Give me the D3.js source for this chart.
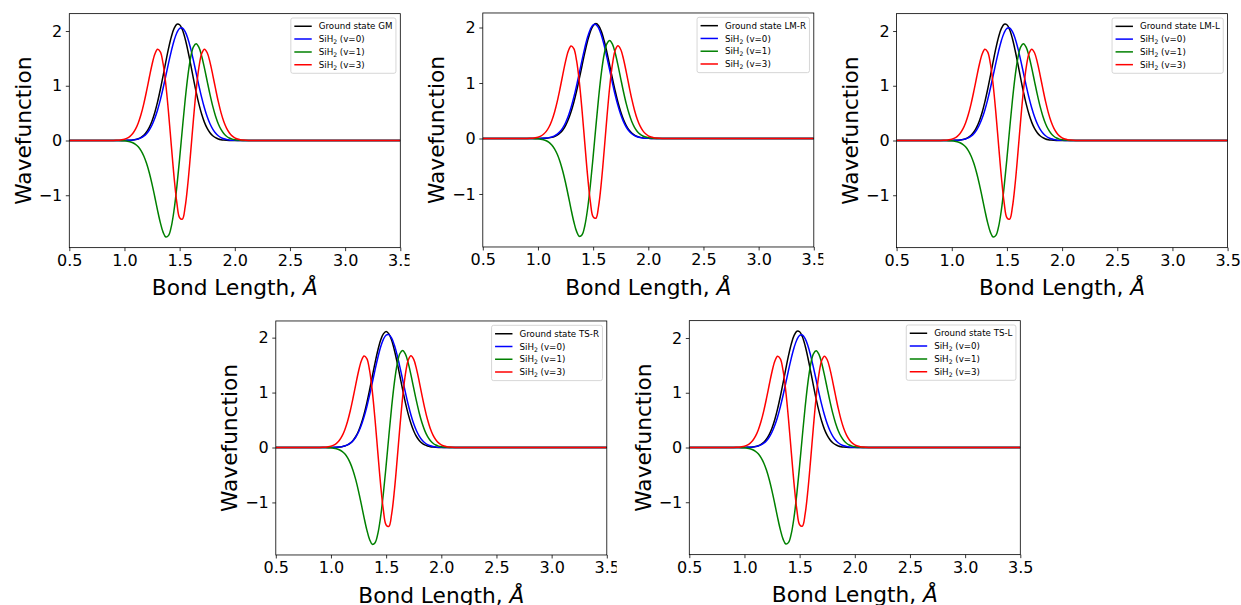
<!DOCTYPE html>
<html><head><meta charset="utf-8">
<script src="https://cdn.jsdelivr.net/npm/d3@7"></script>
<style>
body{margin:0;background:#fff;}
svg{display:block;}
text{font-family:"DejaVu Sans",sans-serif;fill:#000;}
</style>
</head><body>
<svg id="chart" width="1241" height="605"></svg>
<script>
// ---------- data ----------
const bondLength = [0.5, 0.85, 0.875, 0.9, 0.925, 0.95, 0.975, 1.0, 1.025, 1.05, 1.075, 1.1, 1.125, 1.15, 1.175, 1.2, 1.225, 1.25, 1.275, 1.3, 1.325, 1.35, 1.375, 1.4, 1.425, 1.45, 1.475, 1.5, 1.525, 1.55, 1.575, 1.6, 1.625, 1.65, 1.675, 1.7, 1.725, 1.75, 1.775, 1.8, 1.825, 1.85, 1.875, 1.9, 1.925, 1.95, 1.975, 2.0, 2.025, 2.05, 2.075, 2.1, 2.125, 2.15, 2.175, 2.2, 3.5];

const groundGM  = [0, 0, 0, 0, 0.0001, 0.0002, 0.0005, 0.0011, 0.0023, 0.0047, 0.0093, 0.0177, 0.0324, 0.0567, 0.0955, 0.1544, 0.2398, 0.3577, 0.5123, 0.705, 0.9315, 1.1822, 1.4407, 1.6865, 1.8961, 2.0474, 2.1231, 2.1146, 2.0227, 1.8582, 1.6395, 1.3894, 1.1308, 0.8839, 0.6635, 0.4784, 0.3312, 0.2203, 0.1407, 0.0863, 0.0508, 0.0288, 0.0156, 0.0082, 0.0041, 0.002, 0.0009, 0.0004, 0.0002, 0.0001, 0, 0, 0, 0, 0, 0, 0];
const groundLMR = [0, 0, 0, 0, 0, 0.0001, 0.0003, 0.0007, 0.0015, 0.0031, 0.006, 0.0113, 0.0205, 0.0359, 0.0605, 0.0984, 0.1544, 0.2337, 0.3413, 0.4807, 0.6531, 0.8557, 1.0818, 1.3192, 1.5515, 1.7601, 1.9259, 2.033, 2.07, 2.033, 1.9259, 1.7601, 1.5515, 1.3192, 1.0818, 0.8557, 0.6531, 0.4807, 0.3413, 0.2337, 0.1544, 0.0984, 0.0605, 0.0359, 0.0205, 0.0113, 0.006, 0.0031, 0.0015, 0.0007, 0.0003, 0.0001, 0, 0, 0, 0, 0];
const groundLML = [0, 0, 0, 0, 0.0001, 0.0002, 0.0005, 0.0011, 0.0023, 0.0047, 0.0093, 0.0177, 0.0324, 0.0567, 0.0955, 0.1544, 0.2398, 0.3577, 0.5123, 0.705, 0.9315, 1.1822, 1.4407, 1.6865, 1.8961, 2.0474, 2.1231, 2.1146, 2.0227, 1.8582, 1.6395, 1.3894, 1.1308, 0.8839, 0.6635, 0.4784, 0.3312, 0.2203, 0.1407, 0.0863, 0.0508, 0.0288, 0.0156, 0.0082, 0.0041, 0.002, 0.0009, 0.0004, 0.0002, 0.0001, 0, 0, 0, 0, 0, 0, 0];
const groundTSR = [0, 0, 0, 0, 0.0001, 0.0001, 0.0004, 0.0009, 0.0019, 0.0039, 0.0076, 0.0145, 0.0265, 0.0466, 0.0787, 0.128, 0.2003, 0.3014, 0.4362, 0.6073, 0.8132, 1.0473, 1.2971, 1.5455, 1.771, 1.952, 2.0693, 2.11, 2.0693, 1.952, 1.771, 1.5455, 1.2971, 1.0473, 0.8132, 0.6073, 0.4362, 0.3014, 0.2003, 0.128, 0.0787, 0.0466, 0.0265, 0.0145, 0.0076, 0.0039, 0.0019, 0.0009, 0.0004, 0.0001, 0, 0, 0, 0, 0, 0, 0];
const groundTSL = [0, 0, 0, 0, 0.0001, 0.0002, 0.0005, 0.0011, 0.0023, 0.0047, 0.0093, 0.0177, 0.0324, 0.0567, 0.0955, 0.1544, 0.2398, 0.3577, 0.5123, 0.705, 0.9315, 1.1822, 1.4407, 1.6865, 1.8961, 2.0474, 2.1231, 2.1146, 2.0227, 1.8582, 1.6395, 1.3894, 1.1308, 0.8839, 0.6635, 0.4784, 0.3312, 0.2203, 0.1407, 0.0863, 0.0508, 0.0288, 0.0156, 0.0082, 0.0041, 0.002, 0.0009, 0.0004, 0.0002, 0.0001, 0, 0, 0, 0, 0, 0, 0];

const sih2v0 = [0, 0, 0, 0, 0.0001, 0.0002, 0.0005, 0.0011, 0.0023, 0.0046, 0.0087, 0.0158, 0.028, 0.0477, 0.0785, 0.1247, 0.1913, 0.2831, 0.4044, 0.5578, 0.7424, 0.9538, 1.1839, 1.4175, 1.6383, 1.8283, 1.969, 2.047, 2.0542, 1.99, 1.8606, 1.6795, 1.4632, 1.2309, 0.9991, 0.783, 0.5923, 0.4324, 0.3049, 0.2073, 0.1363, 0.0863, 0.0528, 0.0312, 0.0178, 0.0098, 0.0052, 0.0027, 0.0013, 0.0006, 0.0003, 0.0001, 0, 0, 0, 0, 0];
const sih2v1 = [0, 0, 0, -0.0003, -0.0007, -0.0015, -0.0031, -0.0063, -0.0121, -0.0226, -0.0405, -0.0699, -0.116, -0.185, -0.2837, -0.4175, -0.5896, -0.7973, -1.032, -1.2755, -1.5, -1.674, -1.763, -1.733, -1.5677, -1.2634, -0.8375, -0.3265, 0.2185, 0.7406, 1.1869, 1.5179, 1.7113, 1.7666, 1.6996, 1.5402, 1.3223, 1.0804, 0.8428, 0.6283, 0.4491, 0.3074, 0.2022, 0.1278, 0.0776, 0.0453, 0.0255, 0.0138, 0.0072, 0.0036, 0.0017, 0.0008, 0.0003, 0.0001, 0, 0, 0];
const sih2v3 = [0, 0.0001, 0.0006, 0.0014, 0.003, 0.0062, 0.0122, 0.0234, 0.043, 0.0757, 0.1277, 0.2069, 0.3204, 0.474, 0.6699, 0.9009, 1.1507, 1.389, 1.576, 1.667, 1.618, 1.4028, 1.018, 0.4965, -0.0975, -0.6753, -1.1402, -1.4106, -1.4361, -1.2122, -0.7801, -0.2173, 0.3809, 0.9231, 1.3383, 1.5889, 1.6692, 1.6033, 1.4321, 1.1998, 0.9504, 0.7134, 0.5099, 0.3478, 0.2266, 0.1413, 0.0844, 0.0483, 0.0265, 0.014, 0.0071, 0.0035, 0.0016, 0.0007, 0.0003, 0.0001, 0];

const panelNames = ["GM", "LM-R", "LM-L", "TS-R", "TS-L"];
const groundStates = [groundGM, groundLMR, groundLML, groundTSR, groundTSL];
const seriesColors = ["#000000", "#0000ff", "#008000", "#ff0000"];
const vibLabels = ["(v=0)", "(v=1)", "(v=3)"];

const xTicks = [0.5, 1.0, 1.5, 2.0, 2.5, 3.0, 3.5];
const xTickLabels = ["0.5", "1.0", "1.5", "2.0", "2.5", "3.0", "3.5"];
const yTicks = [-1, 0, 1, 2];
const yTickLabels = ["\u22121", "0", "1", "2"];

// ---------- layout ----------
const layout = [
  {left: 69.3,  top: 13.3, clipR: 409.5},
  {left: 482.8, top: 13.3, clipR: 823.3},
  {left: 896.6, top: 13.3, clipR: 1241},
  {left: 275.8, top: 321,  clipR: 616.7},
  {left: 689.3, top: 321,  clipR: 1033.3}
];
const W = 331, H = 234;

const svg = d3.select("#chart");
const defs = svg.append("defs");

panelNames.forEach((name, i) => {
  const L = layout[i];
  const series = [groundStates[i], sih2v0, sih2v1, sih2v3];
  const all = series.flat();
  const ymin = d3.min(all), ymax = d3.max(all);
  const pad = (ymax - ymin) * 0.05;
  const x = d3.scaleLinear().domain([0.5, 3.5]).range([0, W]);
  const y = d3.scaleLinear().domain([ymin - pad, ymax + pad]).range([H, 0]);

  // nudge panel so the zero line sits on a pixel centre (crisp red zero line)
  const z = L.top + y(0);
  const top = L.top + (Math.floor(z) + 0.5 - z);

  defs.append("clipPath").attr("id", "pc" + i).append("rect")
    .attr("x", L.left - 75).attr("y", top - 15)
    .attr("width", L.clipR - (L.left - 75)).attr("height", H + 120);
  defs.append("clipPath").attr("id", "ac" + i).append("rect")
    .attr("x", 0).attr("y", 0).attr("width", W).attr("height", H);

  const outer = svg.append("g").attr("clip-path", `url(#pc${i})`);
  const ax = outer.append("g").attr("transform", `translate(${L.left},${top})`);

  const line = d3.line()
    .x(d => x(d[0])).y(d => y(d[1]))
    .curve(d3.curveCatmullRom.alpha(0.5));

  const plot = ax.append("g").attr("clip-path", `url(#ac${i})`);
  series.forEach((vals, k) => {
    plot.append("path")
      .datum(bondLength.map((b, j) => [b, vals[j]]))
      .attr("d", line)
      .attr("fill", "none")
      .attr("stroke", seriesColors[k])
      .attr("stroke-width", 1.5)
      .attr("stroke-linejoin", "round");
  });

  // axes
  const xAxis = d3.axisBottom(x).tickValues(xTicks)
    .tickFormat((d, j) => xTickLabels[j]).tickSize(3.5).tickPadding(3.5).tickSizeOuter(0);
  const yAxis = d3.axisLeft(y).tickValues(yTicks)
    .tickFormat((d, j) => yTickLabels[j]).tickSize(3.5).tickPadding(3.5).tickSizeOuter(0);
  const gx = ax.append("g").attr("transform", `translate(0,${H})`).call(xAxis);
  const gy = ax.append("g").call(yAxis);
  [gx, gy].forEach(g => {
    g.select(".domain").remove();
    g.selectAll("line").attr("stroke", "#000").attr("stroke-width", 0.8);
    g.selectAll("text").style("font-family", '"DejaVu Sans", sans-serif')
      .style("font-size", "16px").attr("fill", "#000");
  });

  ax.append("rect").attr("x", 0).attr("y", 0).attr("width", W).attr("height", H)
    .attr("fill", "none").attr("stroke", "#000").attr("stroke-width", 0.8);

  // axis labels
  ax.append("text")
    .attr("transform", `translate(${-38.8},${H / 2}) rotate(-90)`)
    .attr("text-anchor", "middle")
    .style("font-size", "21.7px")
    .text("Wavefunction");
  const xl = ax.append("text")
    .attr("x", W / 2).attr("y", H + 47.7)
    .attr("text-anchor", "middle")
    .style("font-size", "21.7px");
  xl.append("tspan").text("Bond Length, ");
  xl.append("tspan").style("font-style", "italic").text("\u00C5");

  // legend
  const fs = 8.7;
  const lg = ax.append("g");
  const texts = [];
  for (let k = 0; k < 4; k++) {
    const t = lg.append("text").style("font-size", fs + "px");
    if (k === 0) {
      t.text("Ground state " + name);
    } else {
      t.append("tspan").text("SiH");
      t.append("tspan").attr("dy", 2).style("font-size", "6.1px").text("2");
      t.append("tspan").attr("dy", -2).text(" " + vibLabels[k - 1]);
    }
    texts.push(t);
  }
  const textW = d3.max(texts, t => t.node().getComputedTextLength());
  const boxW = 3.5 + 17.4 + 7 + textW + 3.5;
  const boxH = 55.3;
  const boxX = W - 4.35 - boxW, boxY = 4.35;
  lg.insert("rect", ":first-child")
    .attr("x", boxX).attr("y", boxY).attr("width", boxW).attr("height", boxH)
    .attr("rx", 2).attr("fill", "#fff").attr("fill-opacity", 0.8)
    .attr("stroke", "#cccccc").attr("stroke-width", 0.8);
  texts.forEach((t, k) => {
    const ry = boxY + 8.35 + k * 12.77;
    t.attr("x", boxX + 27.9).attr("y", ry + 3.1);
    t.select("tspan").attr("x", boxX + 27.9);
    lg.append("line")
      .attr("x1", boxX + 3.5).attr("x2", boxX + 20.9)
      .attr("y1", ry).attr("y2", ry)
      .attr("stroke", seriesColors[k]).attr("stroke-width", 1.5);
  });
});
</script>
</body></html>
